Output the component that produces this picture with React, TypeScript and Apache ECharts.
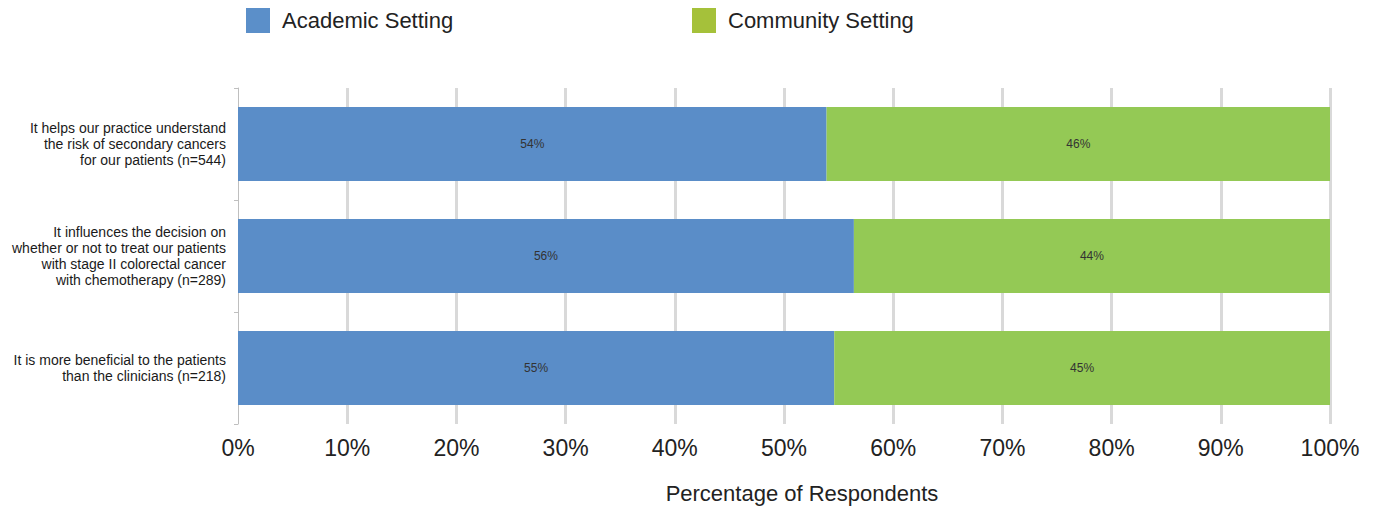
import React, { useEffect, useRef } from "react";
import * as echarts from "echarts";

const categories = [
  "It helps our practice understand\nthe risk of secondary cancers\nfor our patients (n=544)",
  "It influences the decision on\nwhether or not to treat our patients\nwith stage II colorectal cancer\nwith chemotherapy (n=289)",
  "It is more beneficial to the patients\nthan the clinicians (n=218)",
];
const academic = [53.9, 56.4, 54.6];
const community = [46.1, 43.6, 45.4];
const xTicks = [0, 10, 20, 30, 40, 50, 60, 70, 80, 90, 100];

const bigFont = "'Liberation Sans', Arial, sans-serif";

export default function App() {
  const ref = useRef<HTMLDivElement>(null);
  useEffect(() => {
    document.body.style.margin = "0";
    const chart = echarts.init(ref.current!, null, { renderer: "svg" });
    const label = {
      show: true,
      position: "inside",
      fontSize: 12,
      color: "#333",
      fontFamily: "Arial, 'Liberation Sans', sans-serif",
      formatter: (p: any) => Math.round(p.value) + "%",
    };
    const legendCommon = {
      top: 8,
      padding: 0,
      itemWidth: 24,
      itemHeight: 25,
      icon: "rect",
      textStyle: { fontSize: 22, color: "#222", fontFamily: bigFont, padding: [0, 0, 0, 7] },
    };
    chart.setOption({
      animation: false,
      legend: [
        {
          ...legendCommon,
          data: [{ name: "Academic Setting", itemStyle: { color: "#5b8fc9" } }],
          left: 246,
        },
        {
          ...legendCommon,
          data: [{ name: "Community Setting", itemStyle: { color: "#a5c13a" } }],
          left: 692,
        },
      ],
      grid: { left: 238, right: 46, top: 88, bottom: 86, containLabel: false },
      xAxis: {
        type: "value",
        min: 0,
        max: 100,
        interval: 10,
        axisLine: { show: false },
        axisTick: { show: false },
        axisLabel: {
          fontSize: 23,
          color: "#222",
          fontFamily: bigFont,
          margin: 12,
          formatter: (v: number) => (xTicks.includes(v) ? v + "%" : ""),
        },
        splitLine: { show: true, showMinLine: false, lineStyle: { color: "#d9d9d9", width: 3 } },
        name: "Percentage of Respondents",
        nameLocation: "middle",
        nameGap: 58,
        nameTextStyle: { fontSize: 22, color: "#222", fontFamily: bigFont, padding: [0, 0, 0, 36] },
      },
      yAxis: {
        type: "category",
        data: categories,
        inverse: true,
        axisLine: { show: true, lineStyle: { color: "#bfbfbf", width: 1 } },
        axisTick: { show: true, length: 4, lineStyle: { color: "#bfbfbf" } },
        axisLabel: {
          fontSize: 14,
          lineHeight: 16,
          color: "#1a1a1a",
          fontFamily: "Arial, 'Liberation Sans', sans-serif",
          align: "right",
          margin: 12,
        },
      },
      series: [
        {
          name: "Academic Setting",
          type: "bar",
          stack: "total",
          data: academic,
          barCategoryGap: "34%",
          itemStyle: { color: "#5a8dc8" },
          label,
        },
        {
          name: "Community Setting",
          type: "bar",
          stack: "total",
          data: community,
          barCategoryGap: "34%",
          itemStyle: { color: "#94c955" },
          label,
        },
      ],
    });
    return () => chart.dispose();
  }, []);
  return <div ref={ref} style={{ width: 1376, height: 510 }} />;
}
